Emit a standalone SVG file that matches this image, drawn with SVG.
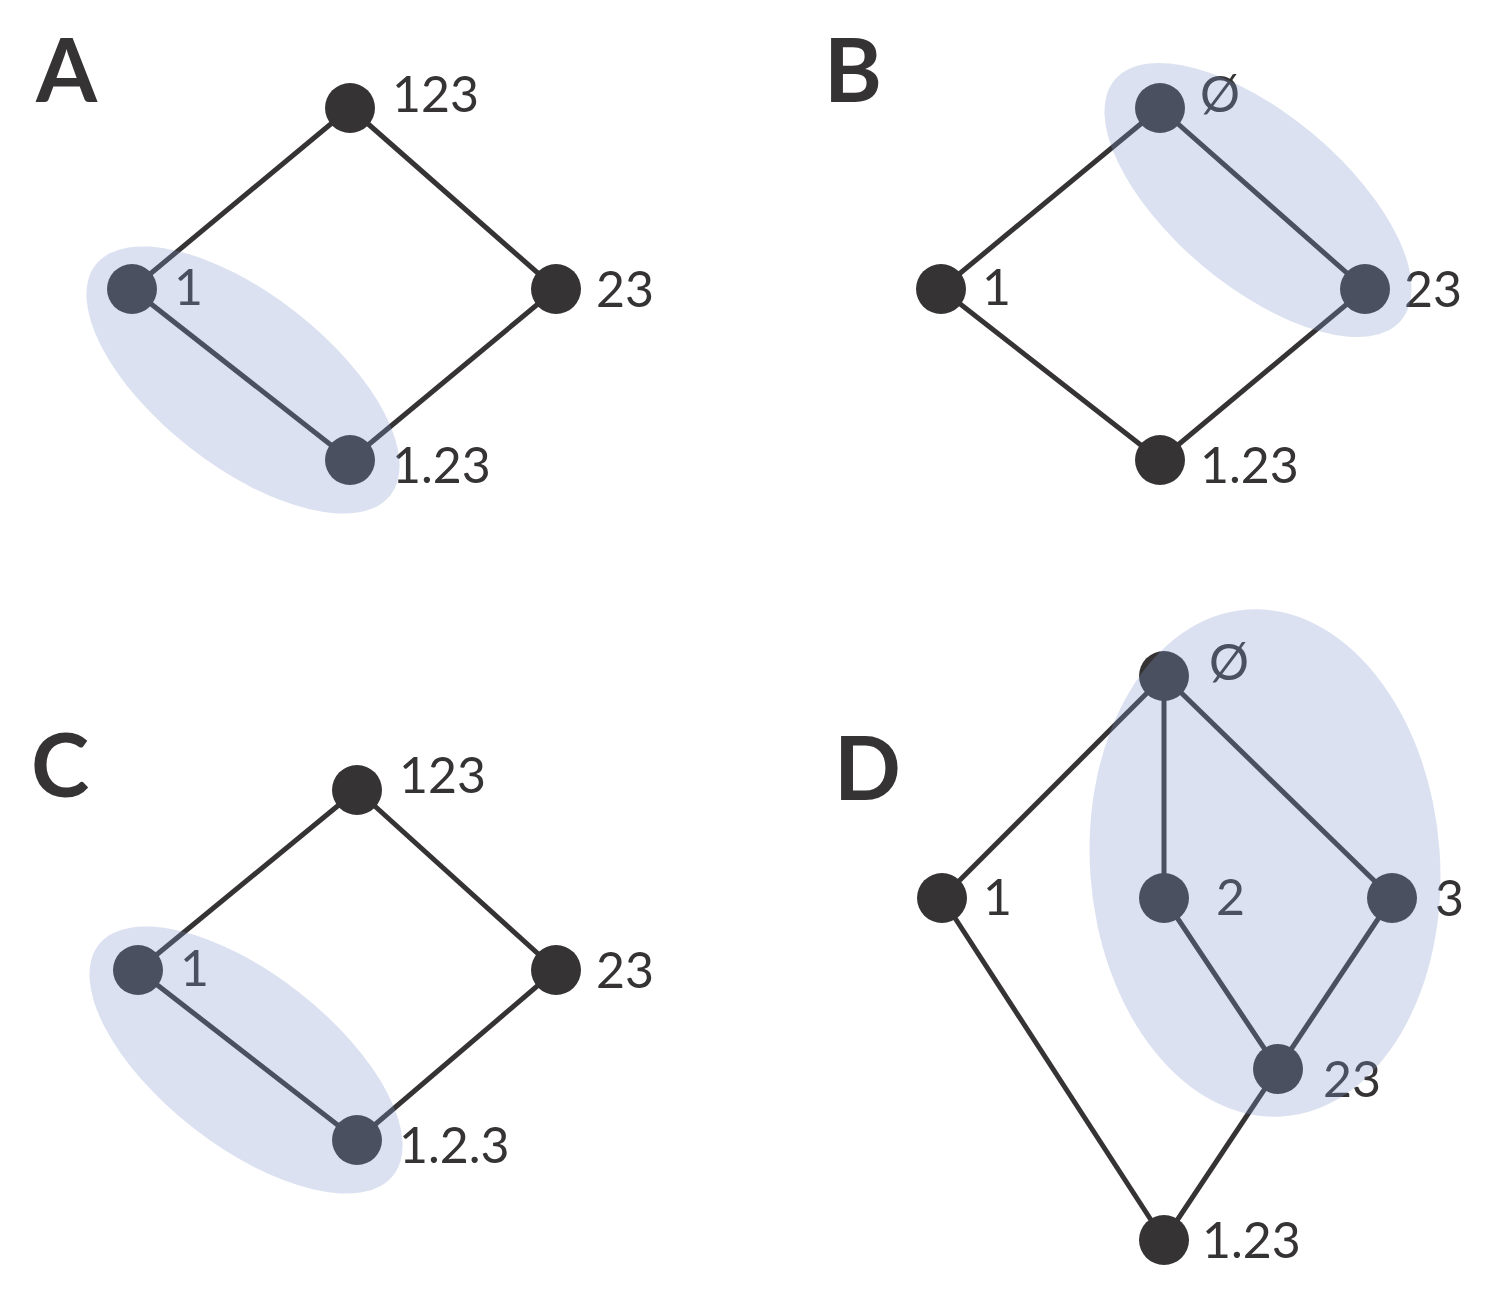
<svg xmlns="http://www.w3.org/2000/svg" width="1491" height="1291" viewBox="0 0 1491 1291">
<style>
.bg{fill:#ffffff}
.e{stroke:#353334;stroke-width:5;fill:none}
.n{fill:#353334}
.t{font-family:Lato,"Liberation Sans",sans-serif;font-size:50px;fill:#353334}
.p{font-family:Lato,"Liberation Sans",sans-serif;font-size:88px;font-weight:bold;fill:#353334}
.h{fill:#8297d0;fill-opacity:0.29}
</style>
<rect class="bg" x="0" y="0" width="1491" height="1291"/>
<g id="connectors">
<line class="e" x1="350" y1="108" x2="132" y2="289"/>
<line class="e" x1="350" y1="108" x2="556" y2="289"/>
<line class="e" x1="132" y1="289" x2="350" y2="460"/>
<line class="e" x1="556" y1="289" x2="350" y2="460"/>
<line class="e" x1="1160" y1="108" x2="941" y2="289"/>
<line class="e" x1="1160" y1="108" x2="1365" y2="289"/>
<line class="e" x1="941" y1="289" x2="1160" y2="460"/>
<line class="e" x1="1365" y1="289" x2="1160" y2="460"/>
<line class="e" x1="357" y1="790" x2="138" y2="970"/>
<line class="e" x1="357" y1="790" x2="556" y2="970"/>
<line class="e" x1="138" y1="970" x2="357" y2="1140"/>
<line class="e" x1="556" y1="970" x2="357" y2="1140"/>
<line class="e" x1="1164" y1="676" x2="942" y2="898"/>
<line class="e" x1="1164" y1="676" x2="1164" y2="898"/>
<line class="e" x1="1164" y1="676" x2="1392" y2="898"/>
<line class="e" x1="1164" y1="898" x2="1278" y2="1069"/>
<line class="e" x1="1392" y1="898" x2="1278" y2="1069"/>
<line class="e" x1="942" y1="898" x2="1164" y2="1240"/>
<line class="e" x1="1278" y1="1069" x2="1164" y2="1240"/>
</g>
<g id="panelA">
<text class="p" x="36" y="102">A</text>
<g id="A-123"><circle class="n" cx="350" cy="108" r="25"/><text class="t" x="392" y="112">123</text></g>
<g id="A-1"><circle class="n" cx="132" cy="289" r="25"/><text class="t" x="174" y="305">1</text></g>
<g id="A-23"><circle class="n" cx="556" cy="289" r="25"/><text class="t" x="596" y="307">23</text></g>
<g id="A-1.23"><circle class="n" cx="350" cy="460" r="25"/><text class="t" x="392" y="483">1.23</text></g>
<ellipse id="A-highlight" class="h" cx="243" cy="380" rx="187" ry="86" transform="rotate(38 243 380)"/>
</g>
<g id="panelB">
<text class="p" x="824" y="102">B</text>
<g id="B-empty"><circle class="n" cx="1160" cy="108" r="25"/><text class="t" x="1200" y="112">Ø</text></g>
<g id="B-1"><circle class="n" cx="941" cy="289" r="25"/><text class="t" x="982" y="305">1</text></g>
<g id="B-23"><circle class="n" cx="1365" cy="289" r="25"/><text class="t" x="1404" y="307">23</text></g>
<g id="B-1.23"><circle class="n" cx="1160" cy="460" r="25"/><text class="t" x="1200" y="483">1.23</text></g>
<ellipse id="B-highlight" class="h" cx="1258" cy="200" rx="187" ry="86" transform="rotate(40 1258 200)"/>
</g>
<g id="panelC">
<text class="p" x="31" y="797">C</text>
<g id="C-123"><circle class="n" cx="357" cy="790" r="25"/><text class="t" x="399" y="793">123</text></g>
<g id="C-1"><circle class="n" cx="138" cy="970" r="25"/><text class="t" x="180" y="986">1</text></g>
<g id="C-23"><circle class="n" cx="556" cy="970" r="25"/><text class="t" x="596" y="988">23</text></g>
<g id="C-1.2.3"><circle class="n" cx="357" cy="1140" r="25"/><text class="t" x="399" y="1163">1.2.3</text></g>
<ellipse id="C-highlight" class="h" cx="246" cy="1060" rx="187" ry="86" transform="rotate(38 246 1060)"/>
</g>
<g id="panelD">
<text class="p" x="834" y="800">D</text>
<g id="D-empty"><circle class="n" cx="1164" cy="676" r="25"/><text class="t" x="1209" y="680">Ø</text></g>
<g id="D-1"><circle class="n" cx="942" cy="898" r="25"/><text class="t" x="983" y="915">1</text></g>
<g id="D-2"><circle class="n" cx="1164" cy="898" r="25"/><text class="t" x="1216" y="915">2</text></g>
<g id="D-3"><circle class="n" cx="1392" cy="898" r="25"/><text class="t" x="1435" y="916">3</text></g>
<g id="D-23"><circle class="n" cx="1278" cy="1069" r="25"/><text class="t" x="1323" y="1097">23</text></g>
<g id="D-1.23"><circle class="n" cx="1164" cy="1240" r="25"/><text class="t" x="1202" y="1258">1.23</text></g>
<ellipse id="D-highlight" class="h" cx="1265" cy="863" rx="175" ry="254" transform="rotate(-4 1265 863)"/>
</g>
</svg>
